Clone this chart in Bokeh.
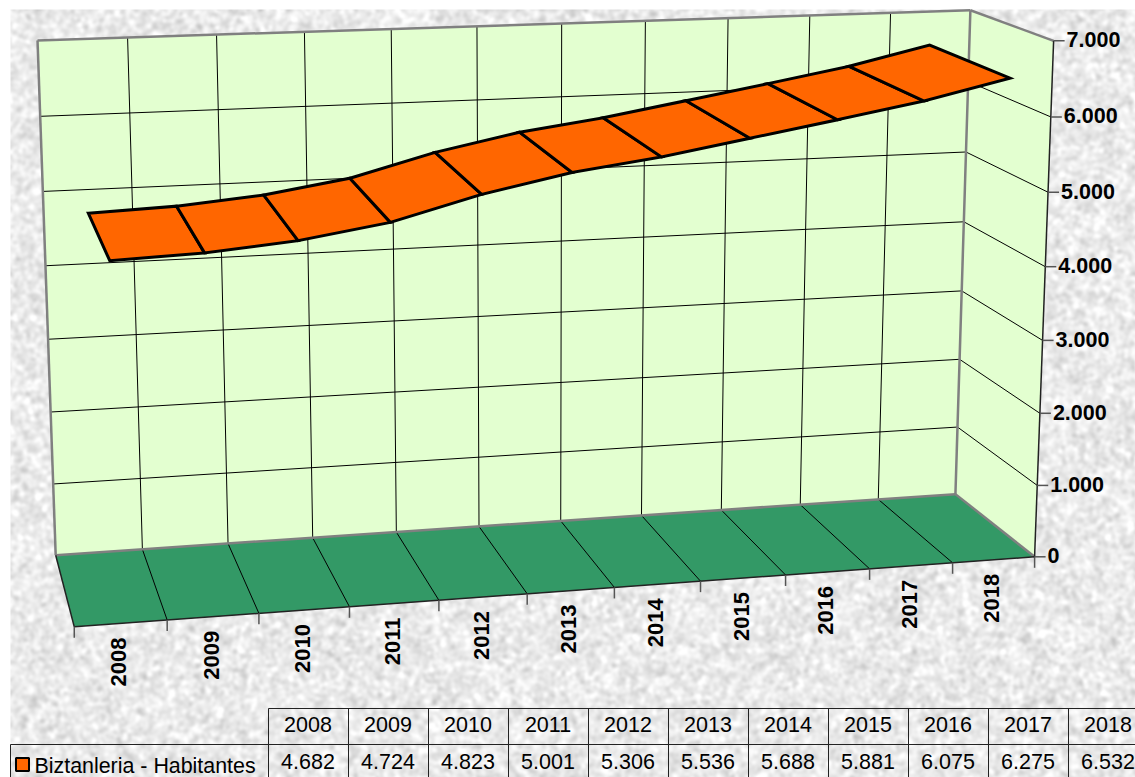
import numpy as np
from bokeh.plotting import figure
from bokeh.models import Range1d
from bokeh.core.properties import value
from bokeh.embed import file_html
from bokeh.resources import INLINE

years = ["2008", "2009", "2010", "2011", "2012", "2013", "2014", "2015", "2016", "2017", "2018"]
population = [4682, 4724, 4823, 5001, 5306, 5536, 5688, 5881, 6075, 6275, 6532]
value_ticks = [0, 1000, 2000, 3000, 4000, 5000, 6000, 7000]
value_tick_labels = ["0", "1.000", "2.000", "3.000", "4.000", "5.000", "6.000", "7.000"]
pop_labels = ["4.682", "4.724", "4.823", "5.001", "5.306", "5.536", "5.688", "5.881", "6.075", "6.275", "6.532"]
series_name = "Biztanleria - Habitantes"

FONT = "Liberation Sans"
WALL, FLOOR, RIBBON, EDGE = "#e3ffd0", "#339966", "#ff6600", "#808080"
NC = len(years)
VMAX = 7000

# Perspective camera, fitted on the box corners: (category, value, depth) -> page pixel
corners = [((0, 0, 0), (74, 627)), ((NC, 0, 0), (1034, 556)), ((NC, VMAX, 0), (1053, 40)),
           ((0, 0, 1), (55, 554)), ((NC, 0, 1), (955, 494)), ((0, VMAX, 1), (37, 40)),
           ((NC, VMAX, 1), (970, 10))]
A, b = [], []
for (u, v, w), (px, py) in corners:
    A.append([u, v, w, 1, 0, 0, 0, 0, -px*u, -px*v, -px*w]); b.append(px)
    A.append([0, 0, 0, 0, u, v, w, 1, -py*u, -py*v, -py*w]); b.append(py)
cam = np.linalg.lstsq(np.array(A, float), np.array(b, float), rcond=None)[0]
M = np.append(cam, 1.0).reshape(3, 4)

def P(u, v, w):
    q = M @ np.array([u, v, w, 1.0])
    return q[0]/q[2], q[1]/q[2]

def seg(p, q):
    return [p[0], q[0]], [p[1], q[1]]

def quad(a, b_, c, d):
    return [a[0], b_[0], c[0], d[0]], [a[1], b_[1], c[1], d[1]]

p = figure(width=1135, height=777, output_backend="svg", toolbar_location=None,
           x_range=Range1d(0, 1135), y_range=Range1d(777, 0), min_border=0,
           background_fill_color="white", border_fill_color="white", outline_line_color=None)
p.axis.visible = False
p.grid.visible = False

# Paper texture of the page background (decorative only)
rng = np.random.default_rng(7)
TW, TH = 1125, 768
tex = rng.normal(size=(TH, TW))
fx = np.fft.fftfreq(TW)[None, :]
fy = np.fft.fftfreq(TH)[:, None]
tex = np.fft.ifft2(np.fft.fft2(tex)*np.exp(-(fx**2+fy**2)*2*(np.pi*1.9)**2)).real
tex = tex/tex.std()
g = np.clip(235 + 9*tex, 195, 255).astype(np.uint32)
rgba = (255 << 24) | (g << 16) | (g << 8) | g
p.image_rgba(image=[rgba], x=10, y=9, dw=TW, dh=TH)

# Walls and floor
xs, ys = quad(P(0, 0, 1), P(NC, 0, 1), P(NC, VMAX, 1), P(0, VMAX, 1))
p.patch(xs, ys, fill_color=WALL, line_color=None)
xs, ys = quad(P(NC, 0, 1), P(NC, 0, 0), P(NC, VMAX, 0), P(NC, VMAX, 1))
p.patch(xs, ys, fill_color=WALL, line_color=None)
xs, ys = quad(P(0, 0, 0), P(NC, 0, 0), P(NC, 0, 1), P(0, 0, 1))
p.patch(xs, ys, fill_color=FLOOR, line_color=None)

# Grid lines
gx, gy = [], []
for t in value_ticks[1:-1]:
    for a, c in ((P(0, t, 1), P(NC, t, 1)), (P(NC, t, 1), P(NC, t, 0))):
        sx, sy = seg(a, c); gx.append(sx); gy.append(sy)
for i in range(1, NC):
    for a, c in ((P(i, 0, 1), P(i, VMAX, 1)), (P(i, 0, 1), P(i, 0, 0))):
        sx, sy = seg(a, c); gx.append(sx); gy.append(sy)
p.multi_line(gx, gy, line_color="#000000", line_width=1)

# Box edges
ex, ey = [], []
for a, c in ((P(0, 0, 1), P(0, VMAX, 1)), (P(0, VMAX, 1), P(NC, VMAX, 1)),
             (P(NC, VMAX, 1), P(NC, 0, 1)), (P(0, 0, 1), P(NC, 0, 1)),
             (P(NC, VMAX, 1), P(NC, VMAX, 0)), (P(NC, 0, 1), P(NC, 0, 0))):
    sx, sy = seg(a, c); ex.append(sx); ey.append(sy)
p.multi_line(ex, ey, line_color=EDGE, line_width=2.5)

# Axis lines
ax, ay = [], []
for a, c in ((P(0, 0, 0), P(NC, 0, 0)), (P(0, 0, 0), P(0, 0, 1)), (P(NC, 0, 0), P(NC, VMAX, 0))):
    sx, sy = seg(a, c); ax.append(sx); ay.append(sy)
p.multi_line(ax, ay, line_color="#222222", line_width=1.5)

# Ticks
tx, ty = [], []
for i in range(NC + 1):
    x0, y0 = P(i, 0, 0)
    tx.append([x0, x0]); ty.append([y0, y0 + 11])
for t in value_ticks:
    x0, y0 = P(NC, t, 0)
    tx.append([x0, x0 + 11]); ty.append([y0, y0])
p.multi_line(tx, ty, line_color="#555555", line_width=1.5)

# Ribbon
rx, ry = [], []
for i in range(NC - 1):
    a, c = i + 0.5, i + 1.5
    xs, ys = quad(P(a, population[i], 1), P(c, population[i+1], 1),
                  P(c, population[i+1], 0), P(a, population[i], 0))
    rx.append(xs); ry.append(ys)
p.patches(rx, ry, fill_color=RIBBON, line_color="#000000", line_width=3, line_join="miter")

# Axis labels
vpts = [P(NC, t, 0) for t in value_ticks]
p.text(x=[q[0] + 13 for q in vpts], y=[q[1] - 1 for q in vpts], text=value_tick_labels,
       text_font=value(FONT), text_font_style="bold", text_font_size="21.5px",
       text_align="left", text_baseline="middle", text_color="#000000")
cpts = [P(i + 0.5, 0, 0) for i in range(NC)]
p.text(x=[q[0] - 2 for q in cpts], y=[q[1] + 14 for q in cpts], text=years, angle=np.pi/2,
       text_font=value(FONT), text_font_style="bold", text_font_size="22px",
       text_align="right", text_baseline="middle", text_color="#000000")

# Data table
TX0, TW_C, TTOP, TMID, TBOT = 268, 80, 708, 744, 777
col_edges = [TX0 + i*TW_C for i in range(NC + 1)]
lx = [[TX0, 1135], [10, 1135], [10, 10]] + [[e, e] for e in col_edges]
ly = [[TTOP, TTOP], [TMID, TMID], [TMID, TBOT]] + [[TTOP, TBOT] for e in col_edges]
p.multi_line(lx, ly, line_color="#222222", line_width=1)
centers = [TX0 + (i + 0.5)*TW_C - 0.5 for i in range(NC)]
p.text(x=centers, y=[(TTOP + TMID)/2 - 2]*NC, text=years, text_font=value(FONT), text_font_size="21.5px",
       text_align="center", text_baseline="middle", text_color="#000000")
p.text(x=centers, y=[(TMID + TBOT)/2 + 0.5]*NC, text=pop_labels, text_font=value(FONT), text_font_size="21.5px",
       text_align="center", text_baseline="middle", text_color="#000000")
p.rect(x=[22], y=[764], width=13, height=13, fill_color=RIBBON, line_color="#000000", line_width=2)
p.text(x=[34], y=[765], text=[series_name], text_font=value(FONT), text_font_size="21.4px",
       text_align="left", text_baseline="middle", text_color="#000000")

open("out.html", "w").write(file_html(p, INLINE))
